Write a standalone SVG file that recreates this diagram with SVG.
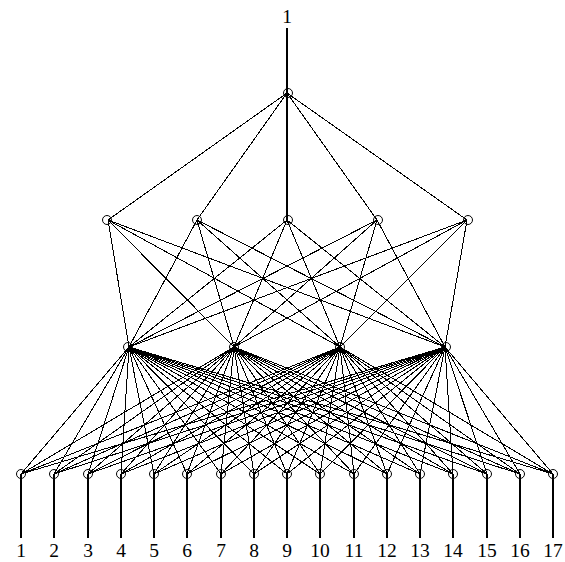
<svg xmlns="http://www.w3.org/2000/svg" width="565" height="562" viewBox="0 0 565 562">
<style>
.e{stroke:#000;stroke-width:1;fill:none;shape-rendering:crispEdges}
.v{stroke-width:2}
.n{stroke:#000;stroke-width:1;fill:none}
.t{font-family:"Liberation Serif",serif;font-size:19.5px;fill:#000;text-anchor:middle}
</style>
<rect width="565" height="562" fill="#fff"/>
<g id="connectors" class="e">
<path class="v" d="M287,28V93"/>
<path d="M287,93L108,220M287,93L197,220M287,93L377,220M287,93L467,220"/>
<path class="v" d="M287,93V220"/>
<path d="M108,220L129,347M108,220L234,347M108,220L340,347M108,220L445,347"/>
<path d="M197,220L129,347M197,220L234,347M197,220L340,347M197,220L445,347"/>
<path d="M287,220L129,347M287,220L234,347M287,220L340,347M287,220L445,347"/>
<path d="M377,220L129,347M377,220L234,347M377,220L340,347M377,220L445,347"/>
<path d="M467,220L129,347M467,220L234,347M467,220L340,347M467,220L445,347"/>
<path d="M129,347L21,474M129,347L54,474M129,347L88,474M129,347L121,474M129,347L154,474M129,347L187,474M129,347L221,474M129,347L254,474M129,347L287,474M129,347L320,474M129,347L354,474M129,347L387,474M129,347L420,474M129,347L453,474M129,347L487,474M129,347L520,474M129,347L553,474"/>
<path d="M234,347L21,474M234,347L54,474M234,347L88,474M234,347L121,474M234,347L154,474M234,347L187,474M234,347L221,474M234,347L254,474M234,347L287,474M234,347L320,474M234,347L354,474M234,347L387,474M234,347L420,474M234,347L453,474M234,347L487,474M234,347L520,474M234,347L553,474"/>
<path d="M340,347L21,474M340,347L54,474M340,347L88,474M340,347L121,474M340,347L154,474M340,347L187,474M340,347L221,474M340,347L254,474M340,347L287,474M340,347L320,474M340,347L354,474M340,347L387,474M340,347L420,474M340,347L453,474M340,347L487,474M340,347L520,474M340,347L553,474"/>
<path d="M445,347L21,474M445,347L54,474M445,347L88,474M445,347L121,474M445,347L154,474M445,347L187,474M445,347L221,474M445,347L254,474M445,347L287,474M445,347L320,474M445,347L354,474M445,347L387,474M445,347L420,474M445,347L453,474M445,347L487,474M445,347L520,474M445,347L553,474"/>
<path class="v" d="M21,474V538M54,474V538M88,474V538M121,474V538M154,474V538M187,474V538M221,474V538M254,474V538M287,474V538M320,474V538M354,474V538M387,474V538M420,474V538M453,474V538M487,474V538M520,474V538M553,474V538"/>
</g>
<text class="t" x="287" y="23">1</text>
<g id="top"><circle class="n" cx="288" cy="93" r="4.5"/></g>
<g id="h1"><circle class="n" cx="107" cy="220" r="4.5"/></g>
<g id="h2"><circle class="n" cx="197" cy="220" r="4.5"/></g>
<g id="h3"><circle class="n" cx="288" cy="220" r="4.5"/></g>
<g id="h4"><circle class="n" cx="378" cy="220" r="4.5"/></g>
<g id="h5"><circle class="n" cx="468" cy="220" r="4.5"/></g>
<g id="m1"><circle class="n" cx="128" cy="347" r="4.5"/></g>
<g id="m2"><circle class="n" cx="234" cy="347" r="4.5"/></g>
<g id="m3"><circle class="n" cx="340" cy="347" r="4.5"/></g>
<g id="m4"><circle class="n" cx="446" cy="347" r="4.5"/></g>
<g id="b1"><circle class="n" cx="21" cy="474" r="4.5"/><text class="t" x="21" y="557">1</text></g>
<g id="b2"><circle class="n" cx="54" cy="474" r="4.5"/><text class="t" x="54" y="557">2</text></g>
<g id="b3"><circle class="n" cx="88" cy="474" r="4.5"/><text class="t" x="88" y="557">3</text></g>
<g id="b4"><circle class="n" cx="121" cy="474" r="4.5"/><text class="t" x="121" y="557">4</text></g>
<g id="b5"><circle class="n" cx="154" cy="474" r="4.5"/><text class="t" x="154" y="557">5</text></g>
<g id="b6"><circle class="n" cx="187" cy="474" r="4.5"/><text class="t" x="187" y="557">6</text></g>
<g id="b7"><circle class="n" cx="221" cy="474" r="4.5"/><text class="t" x="221" y="557">7</text></g>
<g id="b8"><circle class="n" cx="254" cy="474" r="4.5"/><text class="t" x="254" y="557">8</text></g>
<g id="b9"><circle class="n" cx="287" cy="474" r="4.5"/><text class="t" x="287" y="557">9</text></g>
<g id="b10"><circle class="n" cx="320" cy="474" r="4.5"/><text class="t" x="320" y="557">10</text></g>
<g id="b11"><circle class="n" cx="354" cy="474" r="4.5"/><text class="t" x="354" y="557">11</text></g>
<g id="b12"><circle class="n" cx="387" cy="474" r="4.5"/><text class="t" x="387" y="557">12</text></g>
<g id="b13"><circle class="n" cx="420" cy="474" r="4.5"/><text class="t" x="420" y="557">13</text></g>
<g id="b14"><circle class="n" cx="453" cy="474" r="4.5"/><text class="t" x="453" y="557">14</text></g>
<g id="b15"><circle class="n" cx="487" cy="474" r="4.5"/><text class="t" x="487" y="557">15</text></g>
<g id="b16"><circle class="n" cx="520" cy="474" r="4.5"/><text class="t" x="520" y="557">16</text></g>
<g id="b17"><circle class="n" cx="553" cy="474" r="4.5"/><text class="t" x="553" y="557">17</text></g>
</svg>
